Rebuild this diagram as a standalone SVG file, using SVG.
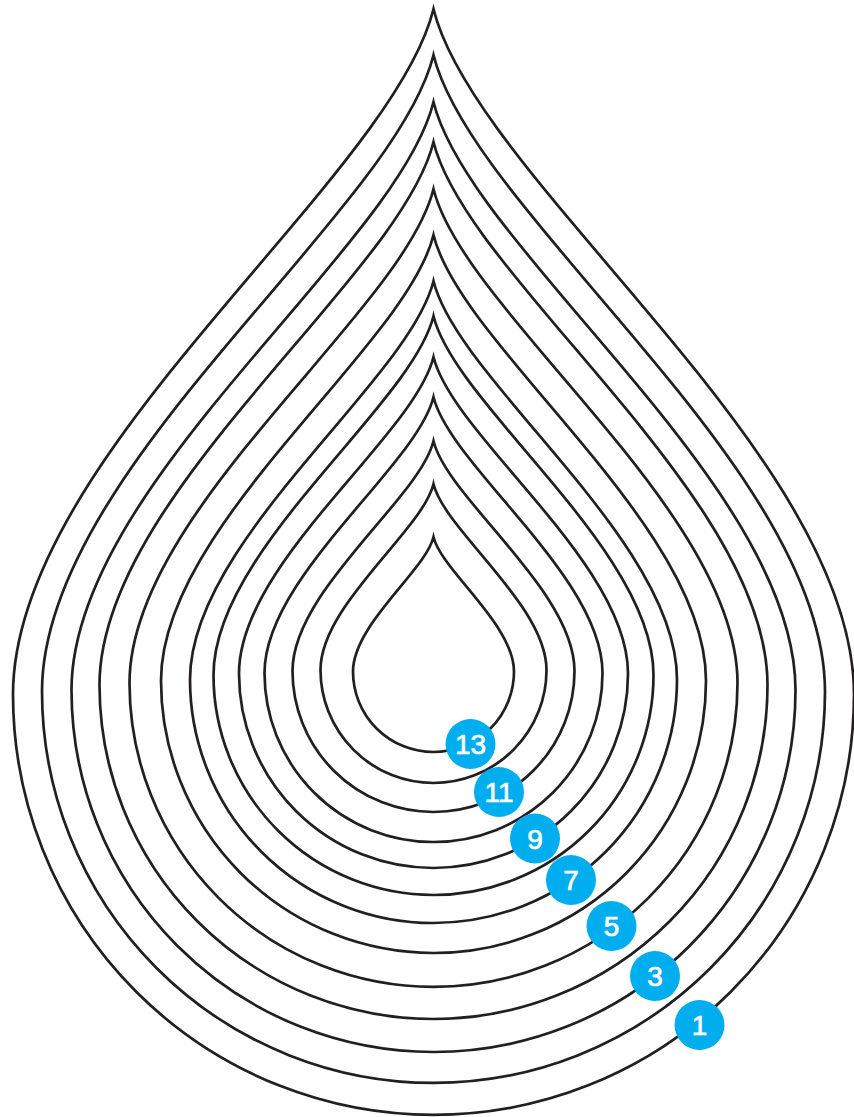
<svg xmlns="http://www.w3.org/2000/svg" width="854" height="1117" viewBox="0 0 854 1117">
<style>
.drop{fill:none;stroke:#231f20;stroke-width:2.7;stroke-miterlimit:10}
.badge circle{fill:#00aeef}
.badge text{fill:#ffffff;stroke:#ffffff;stroke-width:0.7;font-family:"Liberation Sans",Arial,sans-serif;font-size:28px;text-anchor:middle}
</style>
<rect width="854" height="1117" fill="#ffffff"/>
<g id="drops">
<g id="drop-1"><path class="drop" d="M433.5,9 C391.45,180.4 13,454.6 13,694.5 A420.5,420.5 0 0 0 854,694.5 C854,454.6 475.55,180.4 433.5,9 Z"/></g>
<g id="drop-2"><path class="drop" d="M433.5,55 C394.35,214.1 42,468.7 42,691.5 A391.5,391.5 0 0 0 825,691.5 C825,468.7 472.65,214.1 433.5,55 Z"/></g>
<g id="drop-3"><path class="drop" d="M433.5,102 C397.3,249 71.5,484.2 71.5,690 A362,362 0 0 0 795.5,690 C795.5,484.2 469.7,249 433.5,102 Z"/></g>
<g id="drop-4"><path class="drop" d="M433.5,142 C400.1,277.75 99.5,494.95 99.5,685 A334,334 0 0 0 767.5,685 C767.5,494.95 466.9,277.75 433.5,142 Z"/></g>
<g id="drop-5"><path class="drop" d="M433.5,189 C403.1,312.5 129.5,510.1 129.5,683 A304,304 0 0 0 737.5,683 C737.5,510.1 463.9,312.5 433.5,189 Z"/></g>
<g id="drop-6"><path class="drop" d="M433.5,235 C406.25,346.4 161,524.6 161,680.5 A272.5,272.5 0 0 0 706,680.5 C706,524.6 460.75,346.4 433.5,235 Z"/></g>
<g id="drop-7"><path class="drop" d="M433.5,281 C409.15,380.6 190,540 190,679.5 A243.5,243.5 0 0 0 677,679.5 C677,540 457.85,380.6 433.5,281 Z"/></g>
<g id="drop-8"><path class="drop" d="M433.5,316 C411.5,405.75 213.5,549.35 213.5,675 A220,220 0 0 0 653.5,675 C653.5,549.35 455.5,405.75 433.5,316 Z"/></g>
<g id="drop-9"><path class="drop" d="M433.5,357 C414.05,436.1 239,562.7 239,673.5 A194.5,194.5 0 0 0 628,673.5 C628,562.7 452.95,436.1 433.5,357 Z"/></g>
<g id="drop-10"><path class="drop" d="M433.5,397 C416.6,466 264.5,576.4 264.5,673 A169,169 0 0 0 602.5,673 C602.5,576.4 450.4,466 433.5,397 Z"/></g>
<g id="drop-11"><path class="drop" d="M433.5,441 C419.4,498.5 292.5,590.5 292.5,671 A141,141 0 0 0 574.5,671 C574.5,590.5 447.6,498.5 433.5,441 Z"/></g>
<g id="drop-12"><path class="drop" d="M433.5,484 C422.2,530.5 320.5,604.9 320.5,670 A113,113 0 0 0 546.5,670 C546.5,604.9 444.8,530.5 433.5,484 Z"/></g>
<g id="drop-13"><path class="drop" d="M433.5,537 C425.45,570.6 353,624.4 353,671.5 A80.5,80.5 0 0 0 514,671.5 C514,624.4 441.55,570.6 433.5,537 Z"/></g>
</g>
<g id="badges">
<g id="badge-1" class="badge"><circle cx="699.5" cy="1025" r="25"/><text x="699.5" y="1035">1</text></g>
<g id="badge-3" class="badge"><circle cx="655" cy="976" r="25"/><text x="655" y="986">3</text></g>
<g id="badge-5" class="badge"><circle cx="611.5" cy="926" r="25"/><text x="611.5" y="936">5</text></g>
<g id="badge-7" class="badge"><circle cx="571" cy="880" r="25"/><text x="571" y="890">7</text></g>
<g id="badge-9" class="badge"><circle cx="535" cy="838.5" r="25"/><text x="535" y="848.5">9</text></g>
<g id="badge-11" class="badge"><circle cx="499" cy="792" r="25"/><text x="499" y="802">11</text></g>
<g id="badge-13" class="badge"><circle cx="470.5" cy="744" r="25"/><text x="470.5" y="754">13</text></g>
</g>
</svg>
